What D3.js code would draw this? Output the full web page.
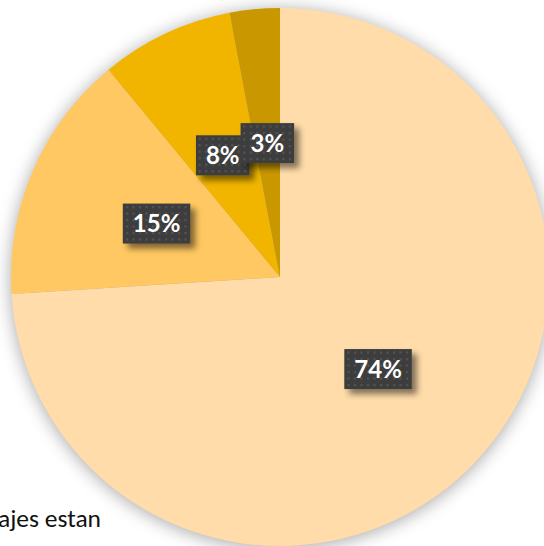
<!DOCTYPE html>
<html>
<head>
<meta charset="utf-8">
<script src="https://cdn.jsdelivr.net/npm/d3@7"></script>
<style>
  body { margin: 0; background: #fff; }
  svg { display: block; }
</style>
</head>
<body>
<div id="chart"></div>
<script>
// slice data, clockwise from 12 o'clock
var categories = ['A', 'B', 'C', 'D']
var values = [74, 15, 8, 3]
var labels = ['74%', '15%', '8%', '3%']
var colors = ['#FFDCA9', '#FFC862', '#F1B500', '#C99700']
var noteLines = ['Los porcentajes estan', 'normalizados']

var width = 544, height = 546
var cx = 280, cy = 277, radius = 269

var svg = d3.select('#chart')
  .append('svg')
  .attr('width', width)
  .attr('height', height)

var defs = svg.append('defs')

// soft glow behind the pie
var glow = defs.append('filter')
  .attr('id', 'glow')
  .attr('x', '-20%').attr('y', '-20%')
  .attr('width', '140%').attr('height', '140%')
glow.append('feGaussianBlur').attr('in', 'SourceAlpha').attr('stdDeviation', 9)
glow.append('feOffset').attr('dx', 0).attr('dy', 2).attr('result', 'b')
glow.append('feComponentTransfer').append('feFuncA').attr('type', 'linear').attr('slope', 0.35)

// label box shadow
var boxShadow = defs.append('filter')
  .attr('id', 'boxShadow')
  .attr('x', '-30%').attr('y', '-30%')
  .attr('width', '160%').attr('height', '160%')
boxShadow.append('feGaussianBlur').attr('in', 'SourceAlpha').attr('stdDeviation', 3)
boxShadow.append('feOffset').attr('dx', 5).attr('dy', 5).attr('result', 'off')
boxShadow.append('feComponentTransfer').attr('result', 'sh')
  .append('feFuncA').attr('type', 'linear').attr('slope', 0.5)
var merge = boxShadow.append('feMerge')
merge.append('feMergeNode').attr('in', 'sh')
merge.append('feMergeNode').attr('in', 'SourceGraphic')

// dotted texture for label boxes
var pat = defs.append('pattern')
  .attr('id', 'dots')
  .attr('width', 6.5).attr('height', 6.5)
  .attr('patternUnits', 'userSpaceOnUse')
pat.append('rect').attr('width', 6.5).attr('height', 6.5).attr('fill', '#3d3d3d')
pat.append('rect').attr('x', 2).attr('y', 2).attr('width', 2).attr('height', 2).attr('fill', '#575757')

var pie = d3.pie()
  .sort(null)
  .value(d => d)

var arc = d3.arc()
  .innerRadius(0)
  .outerRadius(radius)

var arcs = pie(values)

var g = svg.append('g')
  .attr('transform', `translate(${cx},${cy})`)

g.append('circle')
  .attr('r', radius)
  .attr('fill', '#000')
  .attr('filter', 'url(#glow)')

g.selectAll('.slice')
  .data(arcs)
  .enter()
  .append('path')
  .attr('class', (d, i) => 'slice ' + categories[i])
  .attr('d', arc)
  .attr('fill', (d, i) => colors[i])

// labels
var lab = g.selectAll('.lab')
  .data(arcs)
  .enter()
  .append('g')
  .attr('class', 'lab')
  .attr('transform', d => `translate(${arc.centroid(d)})`)

lab.each(function(d, i) {
  var el = d3.select(this)
  var box = el.append('rect')
  var t = el.append('text')
    .text(labels[i])
    .attr('text-anchor', 'middle')
    .attr('dy', '0.36em')
    .attr('fill', '#fff')
    .style('font-family', 'Lato, "Open Sans", sans-serif')
    .style('font-weight', 'bold')
    .style('font-size', '24px')
  var w = t.node().getComputedTextLength() + 20
  var h = 40
  box.attr('x', -w / 2).attr('y', -h / 2)
    .attr('width', w).attr('height', h)
    .attr('fill', 'url(#dots)')
    .attr('filter', 'url(#boxShadow)')
})

// note text, cut off at the left edge
var note = svg.append('g')
  .style('font-family', 'Carlito, Lato, "Open Sans", sans-serif')
  .style('font-size', '25.5px')
  .attr('fill', '#111')

note.append('text')
  .attr('x', 101)
  .attr('y', 527)
  .attr('text-anchor', 'end')
  .text(noteLines[0])

var l2 = note.append('text')
  .attr('y', 564)
  .text(noteLines[1])
var pre = note.append('text').text('norma')
var preW = pre.node().getComputedTextLength()
pre.remove()
l2.attr('x', 102 - preW)
</script>
</body>
</html>
